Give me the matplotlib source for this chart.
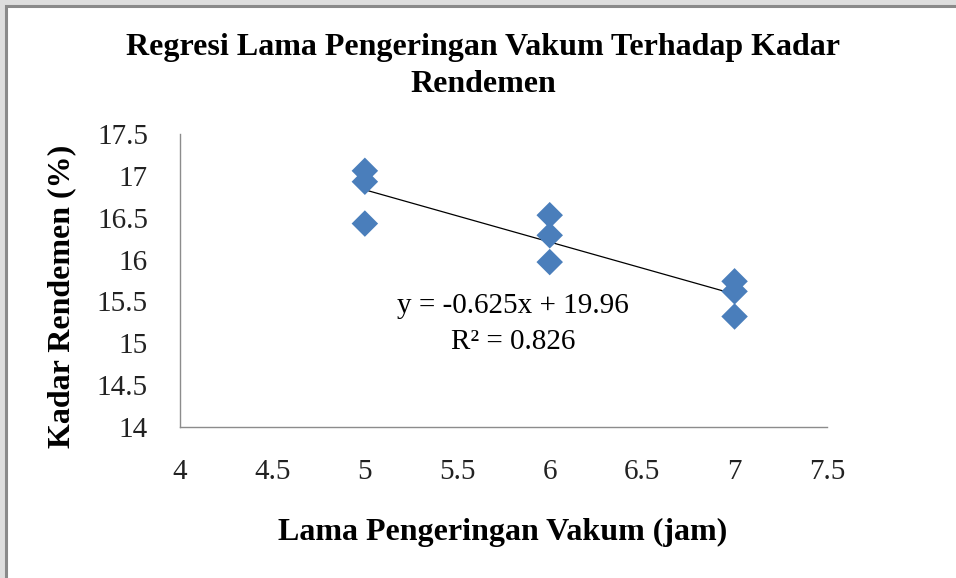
import numpy as np
import matplotlib
matplotlib.use('Agg')
import matplotlib.pyplot as plt
from matplotlib.patches import Rectangle

# data
lama_jam = [5, 5, 5, 6, 6, 6, 7, 7, 7]
rendemen = [17.06, 16.93, 16.43, 16.53, 16.29, 15.97, 15.74, 15.62, 15.32]
x_ticks = [4, 4.5, 5, 5.5, 6, 6.5, 7, 7.5]
y_ticks = [14, 14.5, 15, 15.5, 16, 16.5, 17, 17.5]
eq_text = 'y = -0.625x + 19.96\nR\u00b2 = 0.826'

plt.rcParams['font.family'] = ['Liberation Serif', 'DejaVu Serif']

fig = plt.figure(figsize=(9.56, 5.78), dpi=100, facecolor='#dedede')
# white chart area with grey frame (top/left visible)
fig.patches.append(Rectangle((6 / 956, -0.05), 1.1, 1 - 6 / 578 + 0.05,
                             transform=fig.transFigure, facecolor='white',
                             edgecolor='#8a8a8a', linewidth=2.2, zorder=-10))

ax = fig.add_axes([180 / 956, 1 - 427 / 578, (827 - 180) / 956, (427 - 134) / 578])
ax.set_facecolor('none')

ax.scatter(lama_jam, rendemen, marker='D', s=13.5 ** 2, color='#4a7ebb',
           edgecolors='none', zorder=3)

# linear trendline
coef = np.polyfit(lama_jam, rendemen, 1)
xs = np.array([min(lama_jam), max(lama_jam)])
ax.plot(xs, np.polyval(coef, xs), color='black', linewidth=0.9, zorder=2)

ax.text(5.8, 15.23, eq_text, fontsize=21, ha='center', va='center',
        linespacing=1.5)

ax.set_xlim(4, 7.5)
ax.set_ylim(14, 17.5)
ax.set_xticks(x_ticks)
ax.set_yticks(y_ticks)
ax.set_xticklabels([f'{v:g}' for v in x_ticks])
ax.set_yticklabels([f'{v:g}' for v in y_ticks])
ax.tick_params(axis='both', length=0, labelsize=21, labelcolor='#222222')
ax.tick_params(axis='x', pad=23)
ax.tick_params(axis='y', pad=23)
for s in ['top', 'right']:
    ax.spines[s].set_visible(False)
for s in ['left', 'bottom']:
    ax.spines[s].set_color('#8c8c8c')
    ax.spines[s].set_linewidth(1.0)

fig.text(483 / 956, 1 - 66 / 578, 'Regresi Lama Pengeringan Vakum Terhadap Kadar\nRendemen',
         ha='center', va='center', fontsize=23, fontweight='bold', linespacing=1.35)
fig.text(503 / 956, 1 - 532 / 578, 'Lama Pengeringan Vakum (jam)',
         ha='center', va='center', fontsize=23, fontweight='bold')
fig.text(62 / 956, 1 - 296 / 578, 'Kadar Rendemen (%)', rotation=90,
         ha='center', va='center', fontsize=23, fontweight='bold')

plt.savefig('out.png', dpi=100, facecolor=fig.get_facecolor())
